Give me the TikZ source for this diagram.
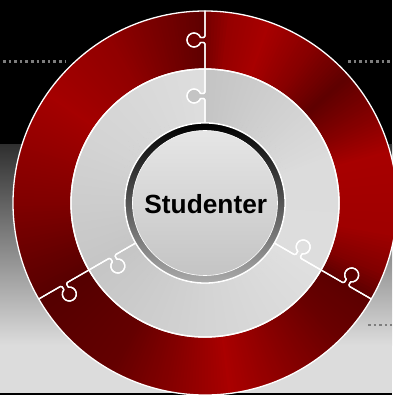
\documentclass[tikz,border=0pt]{standalone}
\usepackage{fontspec}
\setmainfont{Liberation Sans}
\definecolor{bgtop}{RGB}{48,48,48}
\definecolor{bgbot}{RGB}{220,220,220}
\definecolor{dotc}{RGB}{125,125,125}
\definecolor{ringbot}{RGB}{170,170,170}
\definecolor{disktop}{RGB}{230,230,230}
\definecolor{diskbot}{RGB}{196,196,196}

% seam with a puzzle tab, radial frame rotated by #1, tab centred at radius #2, ends at radius #3
\newcommand\seamout[3]{-- ([rotate=#1]#2-4,0) .. controls ([rotate=#1]#2-2.6,0) and ([rotate=#1]#2-2.2,1.5) .. ([rotate=#1]#2-2.5,4.46) arc[start angle=#1+249.1, end angle=#1-69.1, radius=7] .. controls ([rotate=#1]#2+2.2,1.5) and ([rotate=#1]#2+2.6,0) .. ([rotate=#1]#2+4,0) -- ([rotate=#1]#3,0)}
\newcommand\seamin[3]{-- ([rotate=#1]#2+4,0) .. controls ([rotate=#1]#2+2.6,0) and ([rotate=#1]#2+2.2,1.5) .. ([rotate=#1]#2+2.5,4.46) arc[start angle=#1-69.1, end angle=#1+249.1, radius=7] .. controls ([rotate=#1]#2-2.2,1.5) and ([rotate=#1]#2-2.6,0) .. ([rotate=#1]#2-4,0) -- ([rotate=#1]#3,0)}
% piece from angle #1 to #2, tab radius #3, inner radius #4, outer radius #5
\newcommand\piecepath[5]{([rotate=#1]#4,0) \seamout{#1}{#3}{#5} arc[start angle=#1, end angle=#2, radius=#5] \seamin{#2}{#3}{#4} arc[start angle=#2, end angle=#1, radius=#4] -- cycle}

\newcommand\conicfill[3]{%
  \foreach \sa/\va/\sb/\vb in {#1}{%
    \pgfmathtruncatemacro\nn{\sb-\sa-1}%
    \foreach \kk in {0,...,\nn}{%
      \pgfmathsetmacro\ang{\sa+\kk}%
      \pgfmathtruncatemacro\vv{\va+(\vb-\va)*\kk/(\sb-\sa)}%
      \definecolor{tmpc}{RGB}{#3}%
      \fill[tmpc] (0,0) -- (\ang:#2) arc[start angle=\ang, end angle=\ang+1.4, radius=#2] -- cycle;
    }%
  }%
}

\tikzset{
  outl/.style={draw=white, line width=1.3pt, line join=round},
  dotline/.style={draw=dotc, line width=2.6pt, dash pattern=on 2.6pt off 3pt},
}

\begin{document}
\begin{tikzpicture}[x=1pt,y=1pt]
\useasboundingbox (-205,-192) rectangle (187,203);
% background
\fill[black] (-205,-192) rectangle (187,203);
\shade[top color=bgtop, bottom color=bgbot] (-205,58) rectangle (187,-142);
\fill[bgbot] (-205,-142) rectangle (187,-189.7);
% dotted lines
\draw[dotline] (-202,141.5) -- (-140,141.5);
\draw[dotline] (143,141.5) -- (187,141.5);
\draw[dotline] (163,-122) -- (187,-122);

% red ring pieces
\begin{scope}
  \clip \piecepath{-30}{90}{163}{134}{192};
  \conicfill{-42/95/-30/95, -30/95/-22/130, -22/130/-10/160, -10/160/15/168, 15/168/28/130, 28/130/41/95, 41/95/55/135, 55/135/70/168, 70/168/82/150, 82/150/90/115, 90/110/102/110}{200}{\vv,0,0}
\end{scope}
\begin{scope}
  \clip \piecepath{90}{210}{163}{134}{192};
  \conicfill{78/95/90/95, 90/95/100/112, 100/112/120/145, 120/145/145/165, 145/165/180/128, 180/128/200/100, 200/100/210/88, 210/88/222/88}{200}{\vv,0,0}
\end{scope}
\begin{scope}
  \clip \piecepath{210}{330}{163}{134}{192};
  \conicfill{198/85/210/85, 210/85/240/100, 240/100/260/135, 260/135/277/170, 277/170/300/130, 300/130/315/105, 315/105/330/92, 330/92/342/92}{200}{\vv,0,0}
\end{scope}
% grey ring pieces
\begin{scope}
  \clip \piecepath{-30}{90}{107}{80}{134};
  \conicfill{-42/222/-30/222, -30/222/20/220, 20/220/60/206, 60/206/90/196, 90/196/102/196}{140}{\vv,\vv,\vv}
\end{scope}
\begin{scope}
  \clip \piecepath{90}{210}{107}{80}{134};
  \conicfill{78/222/90/222, 90/222/150/212, 150/212/210/198, 210/198/222/198}{140}{\vv,\vv,\vv}
\end{scope}
\begin{scope}
  \clip \piecepath{210}{330}{107}{80}{134};
  \conicfill{198/198/210/198, 210/198/270/212, 270/212/330/224, 330/224/342/224}{140}{\vv,\vv,\vv}
\end{scope}
% outlines
\path[outl] \piecepath{-30}{90}{163}{134}{192};
\path[outl] \piecepath{90}{210}{163}{134}{192};
\path[outl] \piecepath{210}{330}{163}{134}{192};
\path[outl] \piecepath{-30}{90}{107}{80}{134};
\path[outl] \piecepath{90}{210}{107}{80}{134};
\path[outl] \piecepath{210}{330}{107}{80}{134};

% centre ring and disk
\shade[top color=black, bottom color=ringbot] (0,0) circle (80);
\draw[white, line width=1.3pt] (0,0) circle (80);
\shade[top color=disktop, bottom color=diskbot] (0,0) circle (72.5);
\draw[white, line width=0.6pt] (0,0) circle (72.5);
\node[inner sep=0pt, font=\fontsize{26.3}{30}\selectfont\bfseries] (lbl) at (0.8,-1) {Studenter};
\end{tikzpicture}
\end{document}
